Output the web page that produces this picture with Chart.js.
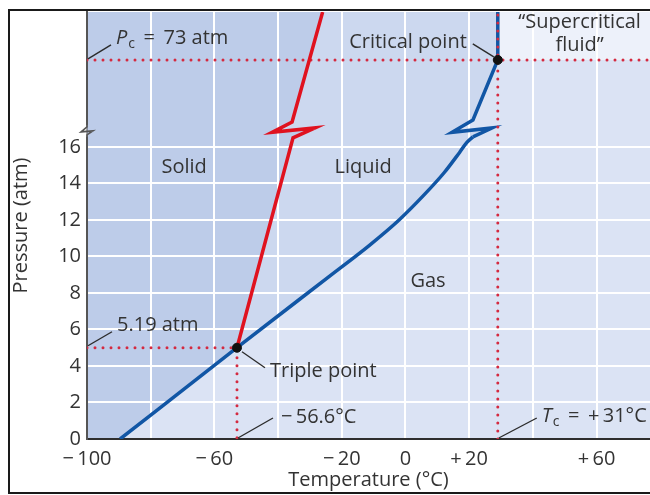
<!DOCTYPE html>
<html>
<head>
<meta charset="utf-8">
<script src="https://cdn.jsdelivr.net/npm/chart.js@4.4.1/dist/chart.umd.min.js"></script>
<style>
  html, body { margin: 0; padding: 0; background: #fff; overflow: hidden; }
  canvas { display: block; }
</style>
</head>
<body>
<canvas id="phase" width="650" height="495"></canvas>
<script>
// CO2 phase diagram (temperature in °C, pressure in atm)
const X_MIN = -100
const X_MAX = 76.8
const X_STEP = 20
const X_TICK_LABELS = [-100, -60, -20, 0, 20, 60]
const Y_STEP = 2
const Y_TICKS_MAX = 16

// pressure axis is broken just above 16 atm, the part above is squeezed
const BREAK_P = 17
const UPPER_SCALE = 0.0673
const P_TOP = 112

const triplePoint = {t: -52.9, p: 5.0}
const criticalPoint = {t: 29.0, p: 73}

// solid/gas then liquid/gas boundary up to the axis break
const blueLowTemps = [-89.6, -52.9, -24.0, -11.4, -2.0, 6.0, 12.2, 17.0, 19.3, 21.2]
const blueLowPress = [0, 5.0, 8.9, 10.6, 12.0, 13.4, 14.6, 15.7, 16.25, 16.55]
// zig-zag at the break, then up to the critical point and on to the top
const blueTopTemps = [21.2, 27.2, 14.6, 21.2, 29.0, 29.0]
const blueTopPress = [16.55, 17.6, 16.8, 24.1, 73, 112]

// solid/liquid boundary
const redTemps = [-52.9, -35.3, -28.4, -41.9, -35.6, -26.0]
const redPress = [5.0, 16.5, 17.6, 16.8, 22.5, 112]

const COLORS = {
  solid: '#bdcce9',
  liquid: '#ccd8ef',
  gas: '#dbe3f4',
  fluid: '#edf1fa',
  blue: '#1156a5',
  red: '#e0121f',
  dots: '#d42a40',
  text: '#333333',
  leader: '#2b2b2b'
}
const FONT = '"Open Sans", sans-serif'

const axisY = p => p <= BREAK_P ? p : BREAK_P + (p - BREAK_P) * UPPER_SCALE
const toPoints = (ts, ps) => ts.map((t, i) => ({x: t, y: axisY(ps[i])}))
const fmtTemp = v => v < 0 ? '\u2212\u2009' + Math.abs(v) : v > 0 ? '+\u2009' + v : '0'

const blueLow = toPoints(blueLowTemps, blueLowPress)
const blueTop = toPoints(blueTopTemps, blueTopPress)
const redPts = toPoints(redTemps, redPress)
const yTop = axisY(P_TOP)

// phase areas, drawn below the grid
const regionsPlugin = {
  id: 'regions',
  beforeDraw(chart) {
    const {ctx, chartArea: a, scales: {x, y}} = chart
    ctx.save()
    ctx.fillStyle = '#fff'
    ctx.fillRect(0, 0, chart.width, chart.height)
    ctx.beginPath()
    ctx.rect(a.left, a.top, a.right - a.left, a.bottom - a.top)
    ctx.clip()
    ctx.fillStyle = COLORS.gas
    ctx.fillRect(a.left, a.top, a.right - a.left, a.bottom - a.top)

    const poly = (list, color) => {
      ctx.beginPath()
      list.forEach((pt, i) => {
        const px = x.getPixelForValue(pt.x), py = y.getPixelForValue(pt.y)
        if (i) ctx.lineTo(px, py)
        else ctx.moveTo(px, py)
      })
      ctx.closePath()
      ctx.fillStyle = color
      ctx.fill()
    }
    const blueToCrit = [...blueLow.slice(1), ...blueTop.slice(1, -1)]
    const pc = axisY(criticalPoint.p)
    poly([{x: X_MIN, y: 0}, blueLow[0], blueLow[1], ...redPts.slice(1), {x: X_MIN, y: yTop}], COLORS.solid)
    poly([...redPts, {x: criticalPoint.t, y: yTop}, ...blueToCrit.reverse()], COLORS.liquid)
    poly([{x: criticalPoint.t, y: pc}, {x: criticalPoint.t, y: yTop}, {x: X_MAX, y: yTop}, {x: X_MAX, y: pc}], COLORS.fluid)
    ctx.restore()
  }
}

// labels, leader lines, axis break and frame
const notesPlugin = {
  id: 'notes',
  afterDraw(chart) {
    const {ctx, scales: {x, y}} = chart
    const px = t => x.getPixelForValue(t)
    const py = p => y.getPixelForValue(axisY(p))
    ctx.save()
    ctx.fillStyle = COLORS.text
    ctx.textBaseline = 'middle'

    const text = (s, cx, cy, align = 'center', size = 20, style = '') => {
      ctx.font = `${style} ${size}px ${FONT}`
      ctx.textAlign = align
      ctx.fillText(s, cx, cy)
      return ctx.measureText(s).width
    }
    const leader = (x1, y1, x2, y2) => {
      ctx.beginPath()
      ctx.moveTo(x1, y1)
      ctx.lineTo(x2, y2)
      ctx.strokeStyle = COLORS.leader
      ctx.lineWidth = 1.4
      ctx.stroke()
    }
    // italic symbol with subscript c, then the rest
    const symbol = (sym, rest, lx, cy) => {
      let w = text(sym, lx, cy, 'left', 20, 'italic')
      w += 1
      const ws = text('c', lx + w, cy + 6, 'left', 14)
      text(rest, lx + w + ws, cy, 'left', 20)
    }

    // phase names
    text('Solid', px(-69.5), py(14.9))
    text('Liquid', px(-13.3), py(14.9))
    text('Gas', px(7.1), py(8.66))
    text('\u201cSupercritical', px(54.7), py(104))
    text('fluid\u201d', px(54.7), py(85))

    // critical pressure
    const x0 = px(X_MIN)
    const yPc = py(criticalPoint.p)
    leader(x0 + 1, yPc - 1, x0 + 24, yPc - 15)
    symbol('P', ' \u2009=\u2009 73 atm', x0 + 29, yPc - 22)

    // critical point
    const xc = px(criticalPoint.t)
    leader(xc - 4, yPc - 3, xc - 25, yPc - 16)
    text('Critical point', xc - 31, yPc - 18, 'right')

    // triple point
    const xt = px(triplePoint.t)
    const yt = py(triplePoint.p)
    leader(x0 + 1, yt - 2, x0 + 25, yt - 16)
    text('5.19 atm', x0 + 30, yt - 22, 'left')
    leader(xt + 5, yt + 4, xt + 28, yt + 20)
    text('Triple point', xt + 33, yt + 24, 'left')

    // temperatures on the axis
    const y0 = py(0)
    leader(xt + 1, y0 - 1, xt + 36, y0 - 21)
    text('\u2212\u200956.6\u00b0C', xt + 44, y0 - 22, 'left')
    leader(xc + 1, y0 - 1, xc + 39, y0 - 21)
    symbol('T', ' \u2009=\u2009 +\u200931\u00b0C', xc + 44, y0 - 23)

    // break mark on the pressure axis
    const yb = py(16.88)
    ctx.fillStyle = '#fff'
    ctx.fillRect(x0 - 4, yb - 6, 3.5, 12)
    ctx.fillStyle = COLORS.solid
    ctx.fillRect(x0 + 0.5, yb - 6, 3.5, 12)
    ctx.beginPath()
    ctx.moveTo(x0, yb - 7)
    ctx.lineTo(x0, yb - 4)
    ctx.lineTo(x0 - 6, yb + 1)
    ctx.lineTo(x0 + 6, yb)
    ctx.lineTo(x0, yb + 4)
    ctx.lineTo(x0, yb + 7)
    ctx.strokeStyle = '#555'
    ctx.lineWidth = 1.6
    ctx.stroke()

    // frame round the figure (its right side lies outside the picture)
    ctx.strokeStyle = '#1a1a1a'
    ctx.lineWidth = 2
    ctx.strokeRect(9, 10, 700, 483)
    ctx.restore()
  }
}

const dotted = (data) => ({
  type: 'line',
  data,
  borderColor: COLORS.dots,
  borderWidth: 3,
  borderDash: [0, 8],
  borderCapStyle: 'round',
  pointRadius: 0,
  order: 2
})

const curve = (data, color, order, tension) => ({
  type: 'line',
  data,
  borderColor: color,
  borderWidth: 3.5,
  borderJoinStyle: 'miter',
  cubicInterpolationMode: tension ? 'monotone' : 'default',
  pointRadius: 0,
  order
})

const pcY = axisY(criticalPoint.p)

new Chart(document.getElementById('phase'), {
  type: 'scatter',
  data: {
    datasets: [
      {
        data: [{x: triplePoint.t, y: axisY(triplePoint.p)}, {x: criticalPoint.t, y: pcY}],
        backgroundColor: '#111',
        borderColor: '#111',
        pointRadius: 4.5,
        order: 0
      },
      curve(redPts, COLORS.red, 1, false),
      dotted([{x: X_MIN, y: pcY}, {x: X_MAX, y: pcY}]),
      dotted([{x: criticalPoint.t, y: 0}, {x: criticalPoint.t, y: yTop}]),
      dotted([{x: X_MIN, y: axisY(triplePoint.p)}, {x: triplePoint.t, y: axisY(triplePoint.p)}, {x: triplePoint.t, y: 0}]),
      curve(blueLow, COLORS.blue, 3, true),
      curve(blueTop, COLORS.blue, 3, false)
    ]
  },
  options: {
    responsive: false,
    devicePixelRatio: 1,
    animation: false,
    layout: {autoPadding: false, padding: {left: 0, right: 0, top: 12, bottom: 0}},
    plugins: {
      legend: {display: false},
      tooltip: {enabled: false}
    },
    scales: {
      x: {
        type: 'linear',
        min: X_MIN,
        max: X_MAX,
        afterFit: (s) => {
          s.height = 56
          s.paddingLeft = 0
          s.paddingRight = 0
        },
        ticks: {
          stepSize: X_STEP,
          includeBounds: false,
          autoSkip: false,
          maxRotation: 0,
          padding: 8,
          color: COLORS.text,
          font: {family: FONT, size: 20},
          callback: (v) => X_TICK_LABELS.includes(v) ? fmtTemp(v) : ''
        },
        grid: {color: '#ffffff', lineWidth: 2, drawTicks: false},
        border: {color: '#2e2e2e', width: 2},
        title: {
          display: true,
          text: 'Temperature (\u00b0C)',
          color: COLORS.text,
          font: {family: FONT, size: 20},
          padding: {top: 0, bottom: 3}
        }
      },
      y: {
        type: 'linear',
        min: 0,
        max: yTop,
        afterFit: (s) => {
          s.width = 87
          s.paddingTop = 0
          s.paddingBottom = 0
        },
        afterBuildTicks: (s) => { s.ticks = s.ticks.filter(t => t.value <= Y_TICKS_MAX) },
        ticks: {
          stepSize: Y_STEP,
          padding: 6,
          color: COLORS.text,
          font: {family: FONT, size: 20}
        },
        grid: {color: '#ffffff', lineWidth: 2, drawTicks: false},
        border: {color: '#555555', width: 2},
        title: {
          display: true,
          text: 'Pressure (atm)',
          color: COLORS.text,
          font: {family: FONT, size: 20},
          padding: {top: 9, bottom: 0}
        }
      }
    }
  },
  plugins: [regionsPlugin, notesPlugin]
})
</script>
</body>
</html>
